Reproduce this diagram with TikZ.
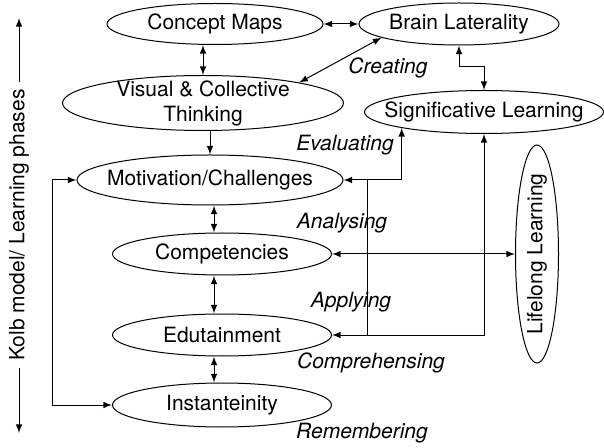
\documentclass[tikz,border=0pt]{standalone}
\usepackage{fontspec}
\setmainfont{TeX Gyre Heros}
\usetikzlibrary{shapes.geometric,arrows}

\begin{document}
\begin{tikzpicture}[>=latex, x=0.5pt, y=-0.5pt, line width=0.5pt,
		every node/.style={font=\fontsize{10.5}{12.5}\selectfont},
		blob/.style={ellipse, draw, inner xsep=-30pt, inner ysep=-5pt, align=center},
		phase/.style={font=\fontsize{10.5}{12.5}\selectfont\itshape}]
		\useasboundingbox (0,0) rectangle (604,448);
		%Ellissi
		\node [blob, minimum width=108pt, minimum height=20.5pt] (cmap) at (215,24) {Concept Maps};
		\node [blob, minimum width=100pt, minimum height=21pt] (brain) at (459,24) {Brain Laterality};
		\node [blob, minimum width=140.5pt, minimum height=27.5pt] (vis) at (203,103) {Visual \& Collective\\Thinking};
		\node [blob, minimum width=119.5pt, minimum height=21.5pt] (sig) at (484,112) {Significative Learning};
		\node [blob, minimum width=133pt, minimum height=25pt] (motiv) at (210,180) {Motivation/Challenges};
		\node [blob, minimum width=109.5pt, minimum height=21pt] (comp) at (222,254) {Competencies};
		\node [blob, minimum width=109.5pt, minimum height=21pt] (edu) at (222,335) {Edutainment};
		\node [blob, minimum width=109.5pt, minimum height=22pt] (inst) at (222,405) {Instanteinity};
		\node [blob, rotate=90, minimum width=109pt, minimum height=21.5pt] (life) at (537,254) {Lifelong Learning};
		%Fasi
		\node [phase] (creat) at (388,68) {Creating};
		\node [phase] (eval) at (345,145) {Evaluating};
		\node [phase] (anal) at (342,223) {Analysing};
		\node [phase] (appl) at (351,302) {Applying};
		\node [phase] (compr) at (371,363) {Comprehensing};
		\node [phase] (remem) at (362,433) {Remembering};
		%Kolb
		\node [rotate=90] (kolb) at (19,225) {Kolb model/ Learning phases};
		\draw [->] (kolb.east) -- (19,18);
		\draw [->] (kolb.west) -- (19,433);
		%Frecce
		\draw [<->] (vis.north) -- (vis.north |- cmap.south);
		\draw [<->] (cmap.east) -- (brain.west);
		\draw [<->] (vis.12) -- (brain.190);
		\draw [->] (motiv.north |- vis.south) -- (motiv.north);
		\draw [<->] (brain.south) -- ++(0,21) -| (sig.north);
		\draw [<->] (motiv.east) -| (sig.191);
		\draw [<->] (edu.east) -| (sig.south);
		\path (motiv.east) -- ++(24,0) coordinate (j1);
		\draw (j1) -- (j1 |- edu.east);
		\draw [<->] (comp.east) -- (life.north);
		\draw [<->] (214,0 |- motiv.south) -- (214,0 |- comp.north);
		\draw [<->] (214,0 |- comp.south) -- (214,0 |- edu.north);
		\draw [<->] (214,0 |- edu.south) -- (214,0 |- inst.north);
		\draw [<->] (inst.west) -- ++(-60,0) |- (motiv.west);
\end{tikzpicture}
\end{document}
